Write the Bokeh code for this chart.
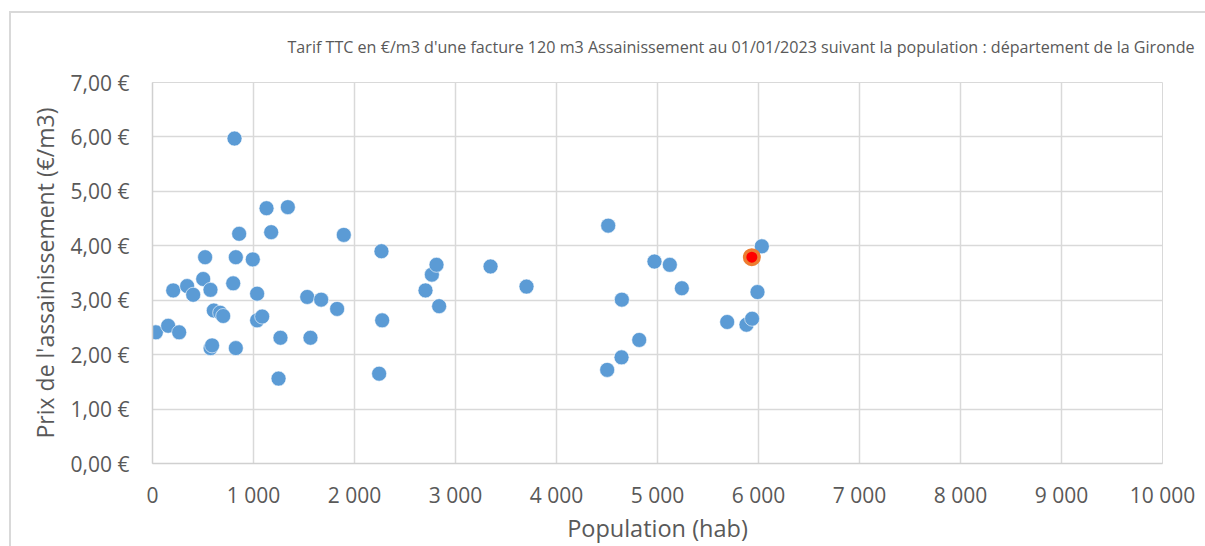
from bokeh.plotting import figure
from bokeh.models import ColumnDataSource, FixedTicker, Range1d, Title, InlineStyleSheet
from bokeh.embed import file_html
from bokeh.resources import INLINE

# ---- data ----
population = [33, 155, 205, 264, 343, 403, 502, 521, 574, 575, 590, 607, 670, 700,
              799, 812, 825, 825, 858, 993, 1036, 1036, 1086, 1129, 1175, 1248, 1267,
              1340, 1532, 1564, 1670, 1828, 1894, 2244, 2267, 2274, 2703, 2766, 2812,
              2838, 3347, 3703, 4502, 4512, 4644, 4647, 4819, 4970, 5122, 5241, 5690,
              5881, 5937, 5990, 6033]
prix = [2.41, 2.53, 3.18, 2.41, 3.26, 3.10, 3.39, 3.79, 3.19, 2.12, 2.17, 2.81, 2.77, 2.71,
        3.31, 5.97, 3.79, 2.12, 4.22, 3.75, 3.12, 2.63, 2.70, 4.69, 4.25, 1.56, 2.31,
        4.71, 3.06, 2.31, 3.01, 2.84, 4.20, 1.65, 3.90, 2.63, 3.18, 3.47, 3.65,
        2.89, 3.62, 3.25, 1.72, 4.37, 1.95, 3.01, 2.27, 3.71, 3.65, 3.22, 2.60,
        2.55, 2.66, 3.15, 3.99]
highlight_population = [5934]
highlight_prix = [3.79]

x_ticks = [0, 1000, 2000, 3000, 4000, 5000, 6000, 7000, 8000, 9000, 10000]
x_tick_labels = ["0", "1 000", "2 000", "3 000", "4 000", "5 000", "6 000",
                 "7 000", "8 000", "9 000", "10 000"]
y_ticks = [0, 1, 2, 3, 4, 5, 6, 7]
y_tick_labels = ["0,00 €", "1,00 €", "2,00 €", "3,00 €", "4,00 €", "5,00 €",
                 "6,00 €", "7,00 €"]

subtitle = ("Tarif TTC en €/m3 d'une facture 120 m3 Assainissement au 01/01/2023 "
            "suivant la population : département de la Gironde")
x_title = "Population (hab)"
y_title = "Prix de l'assainissement (€/m3)"

FONT = "Open Sans"
TXT = "#595959"

W, H = 1205, 546
p = figure(width=W, height=H, output_backend="svg", toolbar_location=None,
           x_range=Range1d(0, 10000), y_range=Range1d(0, 7),
           min_border_left=152, min_border_right=43, min_border_top=82,
           min_border_bottom=83)
p.background_fill_color = "white"
p.border_fill_color = "white"
p.outline_line_color = "#D9D9D9"

p.stylesheets = [InlineStyleSheet(css=""":host::after { content: ''; position: absolute;
  left: 9px; top: 11px; right: 0; bottom: 0; border-left: 2px solid #D9D9D9;
  border-top: 2px solid #D9D9D9; pointer-events: none; }""")]

t = Title(text=subtitle, align="left", offset=135, standoff=50, text_font=FONT,
          text_font_size="16.1px", text_font_style="normal", text_color=TXT)
p.add_layout(t, "above")

src = ColumnDataSource(dict(x=population, y=prix))
p.scatter("x", "y", source=src, size=15, fill_color="#5B9BD5",
          line_color="white", line_width=0.6)
hsrc = ColumnDataSource(dict(x=highlight_population, y=highlight_prix))
p.scatter("x", "y", source=hsrc, size=14.5, fill_color="#FF0000",
          line_color="#ED7D31", line_width=3.5)

p.xaxis.ticker = FixedTicker(ticks=x_ticks)
p.yaxis.ticker = FixedTicker(ticks=y_ticks)
p.xaxis.major_label_overrides = {v: s for v, s in zip(x_ticks, x_tick_labels)}
p.yaxis.major_label_overrides = {v: s for v, s in zip(y_ticks, y_tick_labels)}

for ax in (p.xaxis[0], p.yaxis[0]):
    ax.major_tick_line_color = None
    ax.minor_tick_line_color = None
    ax.major_tick_out = 0
    ax.major_tick_in = 0
    ax.axis_line_color = "#D0D0D0"
    ax.axis_line_width = 1.5
    ax.major_label_text_font = FONT
    ax.major_label_text_font_size = "21px"
    ax.major_label_text_color = TXT
    ax.axis_label_text_font = FONT
    ax.axis_label_text_font_style = "normal"
    ax.axis_label_text_color = TXT

p.xaxis.axis_label_text_font_size = "23.5px"
p.yaxis.axis_label_text_font_size = "23px"
p.xaxis.axis_label = x_title
p.yaxis.axis_label = y_title
p.yaxis.major_label_standoff = 23
p.xaxis.major_label_standoff = 17
p.yaxis.axis_label_standoff = 7
p.xaxis.axis_label_standoff = 0

p.xgrid.grid_line_color = "#D9D9D9"
p.ygrid.grid_line_color = "#D9D9D9"
p.xgrid.grid_line_width = 1.5
p.ygrid.grid_line_width = 1.5

open("out.html", "w").write(file_html(p, INLINE))
